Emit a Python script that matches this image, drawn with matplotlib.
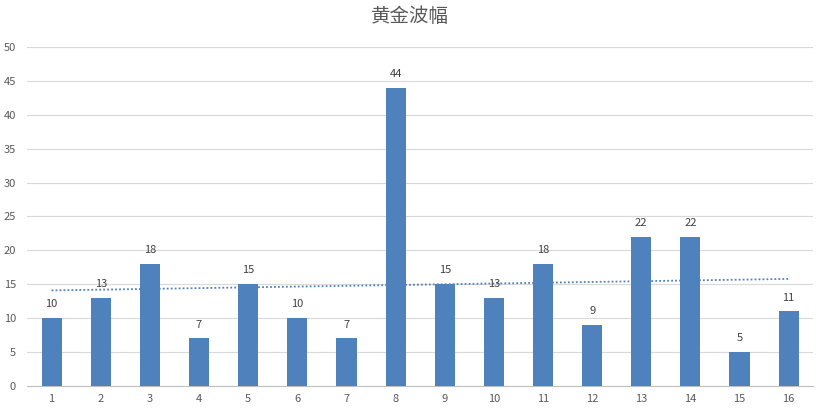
import matplotlib
matplotlib.use('Agg')
import matplotlib.pyplot as plt
import numpy as np

plt.rcParams['font.family'] = ['Noto Sans CJK SC', 'DejaVu Sans']

# 数据
categories = [str(i) for i in range(1, 17)]
values = [10, 13, 18, 7, 15, 10, 7, 44, 15, 13, 18, 9, 22, 22, 5, 11]
title = '黄金波幅'

x = np.arange(1, len(values) + 1)

fig = plt.figure(figsize=(8.19, 4.15), dpi=100)
ax = fig.add_axes([0.033, 0.07, 0.96, 0.817])

bars = ax.bar(x, values, width=0.41, color='#4F81BD', zorder=3)

# 线性趋势线
k, b = np.polyfit(x, values, 1)
ax.plot(x, k * x + b, linestyle=(0, (1, 1.2)), color='#4F81BD', linewidth=1.3, zorder=2)

for xi, v in zip(x, values):
    ax.text(xi, v + 1.3, str(v), ha='center', va='bottom', fontsize=8, color='#404040', zorder=4)

ax.set_xlim(0.5, 16.5)
ax.set_ylim(0, 50)
ax.set_yticks(range(0, 51, 5))
ax.set_xticks(x)
ax.set_xticklabels(categories)
ax.tick_params(axis='both', length=0, labelsize=8, labelcolor='#595959')
ax.tick_params(axis='x', pad=6)
ax.tick_params(axis='y', pad=8)
ax.grid(axis='y', color='#D9D9D9', linewidth=0.8, zorder=0)
for s in ['top', 'right', 'left']:
    ax.spines[s].set_visible(False)
ax.spines['bottom'].set_color('#BFBFBF')
ax.spines['bottom'].set_zorder(1)

fig.text(0.5, 0.96, title, ha='center', va='center', fontsize=14, color='#595959')

fig.savefig('out.png', dpi=100)
